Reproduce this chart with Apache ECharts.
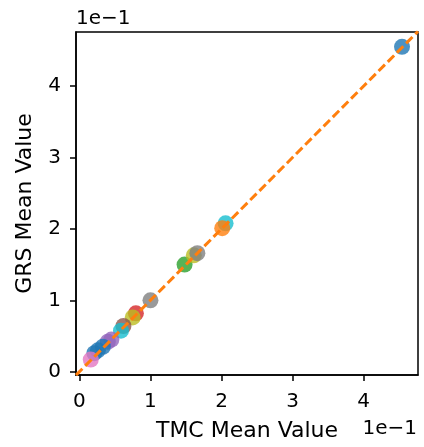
<!DOCTYPE html>
<html><head><meta charset="utf-8">
<script src="https://cdn.jsdelivr.net/npm/echarts@6/dist/echarts.min.js"></script>
<style>html,body{margin:0;padding:0;background:#fff}#c{width:424px;height:447px}</style>
</head><body><div id="c"></div>
<script>
// Values in real units (axes display ×1e-1)
const tmcValues = [0.454, 0.2057, 0.201, 0.148, 0.161, 0.166, 0.100, 0.0795, 0.075, 0.062, 0.0585, 0.045, 0.040, 0.033, 0.026, 0.021, 0.016];
const grsValues = [0.455, 0.2078, 0.201, 0.150, 0.163, 0.166, 0.100, 0.0818, 0.076, 0.064, 0.0575, 0.045, 0.042, 0.035, 0.030, 0.026, 0.017];
const colorIdx  = [0, 9, 1, 2, 8, 7, 7, 3, 8, 5, 9, 4, 4, 0, 0, 0, 6];
const tickValues = [0, 0.1, 0.2, 0.3, 0.4];
const diagLine = [-0.0048, 0.4765];

const palette = ['#1f77b4','#ff7f0e','#2ca02c','#d62728','#9467bd','#8c564b','#e377c2','#7f7f7f','#bcbd22','#17becf'];
const FONT = 'DejaVu Sans';
const pts = tmcValues.map((x, i) => ({value: [x, grsValues[i]], itemStyle: {color: palette[colorIdx[i]]}}));

const chart = echarts.init(document.getElementById('c'), null, {renderer: 'canvas'});
const axisCommon = {
  type: 'value',
  splitLine: {show: false},
  axisLine: {show: true, onZero: false, lineStyle: {color: '#000', width: 1.5}},
  axisTick: {show: true, length: 6, inside: false, lineStyle: {color: '#000', width: 1.5}, customValues: tickValues},
  axisLabel: {color: '#000', fontSize: 20, fontFamily: FONT, customValues: tickValues,
              formatter: v => String(Math.round(v * 10))},
  nameLocation: 'middle',
  nameTextStyle: {color: '#000', fontSize: 22, fontFamily: FONT, verticalAlign: 'middle'}
};
chart.setOption({
  animation: false,
  grid: {left: 76, right: 6, top: 32, bottom: 72, show: true, borderColor: '#000', borderWidth: 1.5, containLabel: false},
  xAxis: Object.assign({}, axisCommon, {min: -0.0048, max: 0.4765, name: 'TMC Mean Value', nameGap: 56,
    axisLabel: Object.assign({}, axisCommon.axisLabel, {margin: 17})}),
  yAxis: Object.assign({}, axisCommon, {min: -0.0046, max: 0.4757, name: 'GRS Mean Value', nameGap: 51,
    axisLabel: Object.assign({}, axisCommon.axisLabel, {margin: 15})}),
  graphic: [
    {type: 'text', left: 76, top: 9, style: {text: '1e\u22121', font: '20px "DejaVu Sans"', fill: '#000'}},
    {type: 'text', right: 7, top: 419, style: {text: '1e\u22121', font: '20px "DejaVu Sans"', fill: '#000'}}
  ],
  series: [
    {type: 'scatter', data: pts, symbolSize: 16, z: 2},
    {type: 'line', data: [[diagLine[0], diagLine[0]], [diagLine[1], diagLine[1]]], symbol: 'none', clip: true, z: 3,
     lineStyle: {color: '#ff7f0e', width: 3, type: [9, 4]}}
  ]
});
</script></body></html>
